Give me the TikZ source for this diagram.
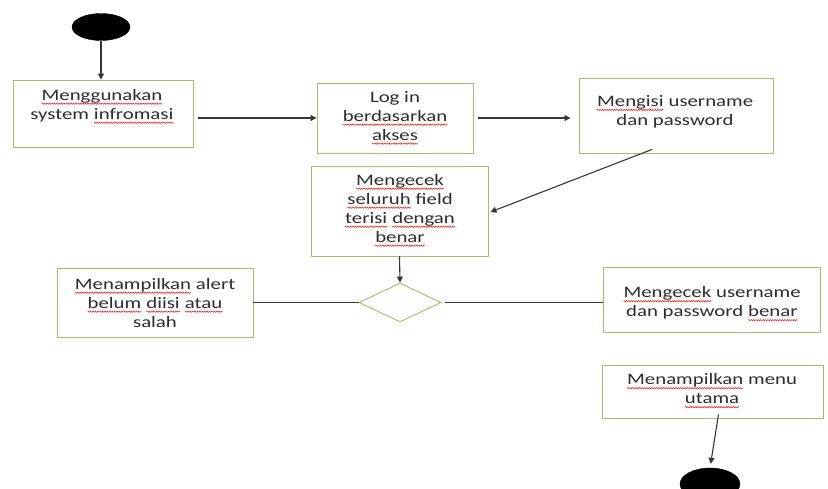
\documentclass[tikz,border=0pt]{standalone}
\usepackage{fontspec}
\setmainfont{Carlito}[FakeStretch=1.3]
\usetikzlibrary{shapes.geometric,arrows.meta,decorations.pathmorphing}
\definecolor{boxgreen}{RGB}{160,190,110}
\definecolor{linegray}{RGB}{55,55,55}
\definecolor{txtgray}{RGB}{45,45,45}
\newcommand\rw[1]{\pgfinterruptpicture\tikz[baseline=(w.base),x=1pt,y=1pt]{%
  \node[shape=rectangle,draw=none,fill=none,inner sep=0pt,outer sep=0pt,
    minimum width=0pt,minimum height=0pt,text=txtgray] (w) {#1};
  \draw[red,line width=0.45pt,decorate,decoration={zigzag,amplitude=0.7pt,segment length=2.4pt}]
    ([yshift=-3.2pt]w.base west) -- ([yshift=-3.2pt]w.base east);}\endpgfinterruptpicture}
\begin{document}
\begin{tikzpicture}[x=1pt,y=-1pt,
  box/.style={draw=boxgreen,line width=0.9pt,inner sep=0pt},
  txt/.style={align=center,inner sep=0pt,text=txtgray,font=\fontsize{16}{19}\selectfont},
  blob/.style={ellipse,fill=black,draw=black,inner sep=0pt},
  arr/.style={draw=linegray,line width=1.1pt,-{Triangle[length=6pt,width=6pt]}},
  ln/.style={draw=linegray,line width=1.1pt}]
\useasboundingbox (0,0) rectangle (828,488);
\clip (0,0) rectangle (828,488);
\fill[white] (0,0) rectangle (828,488);

\node[blob,minimum width=58pt,minimum height=27pt] (start) at (101,27) {};

\node[box,minimum width=180pt,minimum height=67pt] (b1) at (103,113.5) {};
\node[txt] (t1) at (102,106.5) {\rw{Menggunakan}\\system \rw{infromasi}};

\node[box,minimum width=156pt,minimum height=70pt] (b2) at (395,118) {};
\node[txt] (t2) at (395,118) {Log in\\\rw{berdasarkan}\\\rw{akses}};

\node[box,minimum width=194pt,minimum height=75pt] (b3) at (676,115.5) {};
\node[txt] (t3) at (675,112) {\rw{Mengisi} username\\dan password};

\node[box,minimum width=177pt,minimum height=90pt] (b4) at (399.5,211) {};
\node[txt] (t4) at (400,210.5) {\rw{Mengecek}\\\rw{seluruh} field\\\rw{terisi} \rw{dengan}\\\rw{benar}};

\node[diamond,draw=boxgreen,line width=0.9pt,inner sep=0pt,
  minimum width=82pt,minimum height=39pt] (d) at (400,302.5) {};

\node[box,minimum width=196pt,minimum height=69pt] (b5) at (155,302.5) {};
\node[txt] (t5) at (155,303) {\rw{Menampilkan} alert\\\rw{belum} \rw{diisi} \rw{atau}\\salah};

\node[box,minimum width=217pt,minimum height=65pt] (b6) at (711.5,299.5) {};
\node[txt] (t6) at (712,304) {\rw{Mengecek} username\\dan password \rw{benar}};

\node[box,minimum width=221pt,minimum height=53pt] (b7) at (712.5,391.5) {};
\node[txt] (t7) at (712,391) {\rw{Menampilkan} menu\\\rw{utama}};

\node[blob,minimum width=60pt,minimum height=32pt] (end) at (710,484) {};

\draw[arr] (start.south) -- (start.south |- b1.north);
\draw[arr] ([xshift=5pt]b1.east |- b2.west) -- (b2.west);
\draw[arr,shorten >=8pt] ([xshift=5pt]b2.east) -- (b2.east -| b3.west);
\draw[arr] ([xshift=-24pt,yshift=4pt]b3.south) -- ([xshift=2pt,yshift=-1pt]b4.east);
\draw[arr] (b4.south) -- (d.north);
\draw[ln] (d.west) -- (b5.east);
\draw[ln] ([xshift=4pt]d.east) -- (d.east -| b6.west);
\draw[arr,shorten >=4pt] ([xshift=6pt,yshift=4pt]b7.south) -- (end.north);
\end{tikzpicture}
\end{document}
